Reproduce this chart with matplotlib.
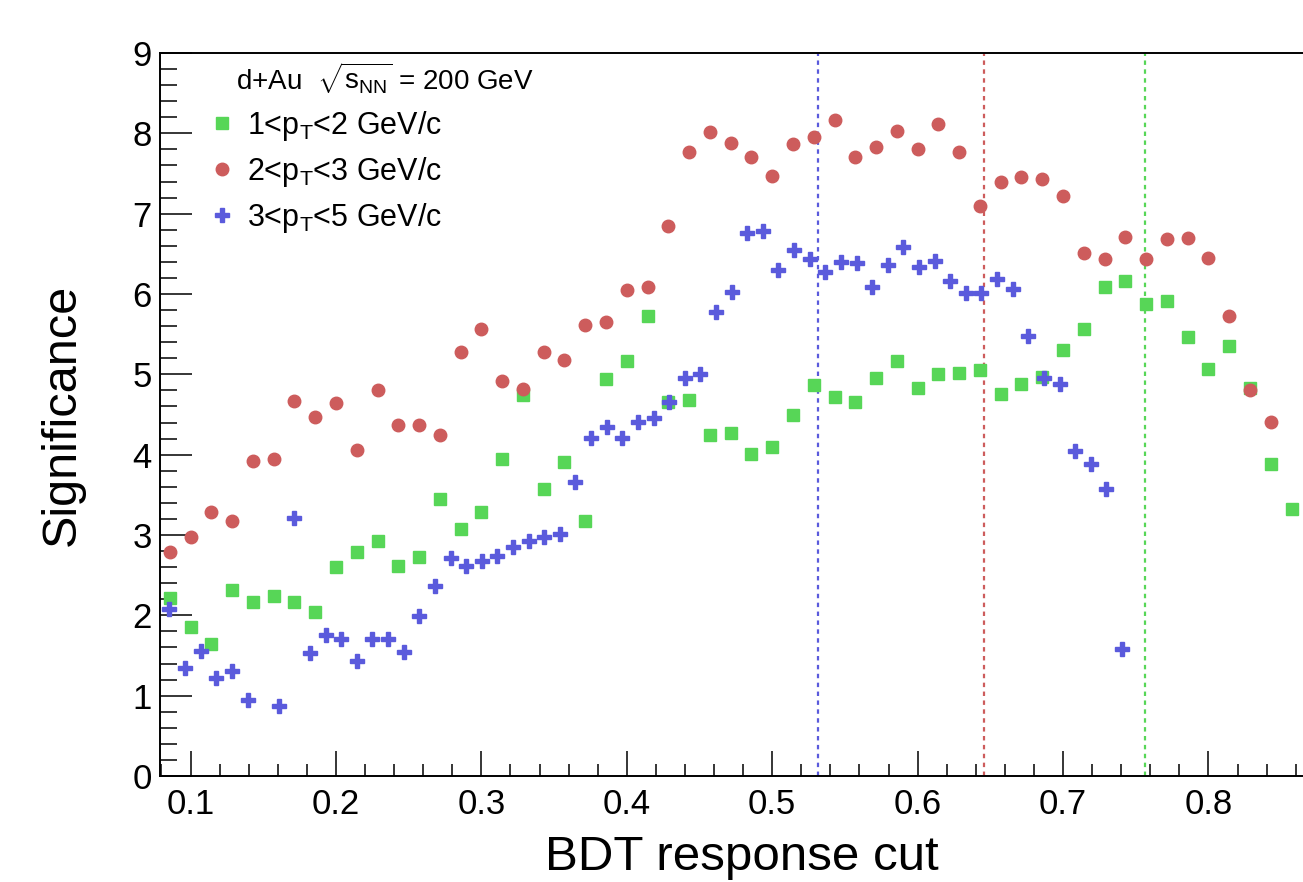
import numpy as np
import matplotlib
matplotlib.use("Agg")
import matplotlib.pyplot as plt
from matplotlib.ticker import MultipleLocator

plt.rcParams['font.family'] = ['Liberation Sans', 'DejaVu Sans']
plt.rcParams['mathtext.fontset'] = 'custom'
plt.rcParams['mathtext.rm'] = 'Liberation Sans'
plt.rcParams['mathtext.it'] = 'Liberation Sans'
plt.rcParams['mathtext.bf'] = 'Liberation Sans:bold'

# ---- data ----
x_rg = [0.0857, 0.1000, 0.1143, 0.1286, 0.1429, 0.1571, 0.1714, 0.1857, 0.2000, 0.2143,
        0.2286, 0.2429, 0.2571, 0.2714, 0.2857, 0.3000, 0.3143, 0.3286, 0.3429, 0.3571,
        0.3714, 0.3857, 0.4000, 0.4143, 0.4286, 0.4429, 0.4571, 0.4714, 0.4857, 0.5000,
        0.5143, 0.5286, 0.5429, 0.5571, 0.5714, 0.5857, 0.6000, 0.6143, 0.6286, 0.6429,
        0.6571, 0.6714, 0.6857, 0.7000, 0.7143, 0.7286, 0.7429, 0.7571, 0.7714, 0.7857,
        0.8000, 0.8143, 0.8286, 0.8429, 0.8571]

sig_pt12 = [2.22, 1.85, 1.64, 2.31, 2.16, 2.24, 2.16, 2.04, 2.60, 2.79,
            2.93, 2.62, 2.73, 3.45, 3.08, 3.29, 3.95, 4.74, 3.57, 3.91,
            3.17, 4.94, 5.16, 5.72, 4.65, 4.68, 4.24, 4.27, 4.01, 4.09,
            4.49, 4.87, 4.72, 4.66, 4.96, 5.16, 4.83, 5.01, 5.02, 5.05,
            4.76, 4.88, 4.97, 5.30, 5.57, 6.09, 6.16, 5.88, 5.91, 5.46,
            5.07, 5.35, 4.83, 3.89, 3.32]

sig_pt23 = [2.79, 2.97, 3.29, 3.18, 3.92, 3.95, 4.67, 4.47, 4.64, 4.06,
            4.81, 4.37, 4.37, 4.25, 5.28, 5.57, 4.92, 4.82, 5.28, 5.18,
            5.62, 5.65, 6.05, 6.09, 6.85, 7.77, 8.02, 7.88, 7.71, 7.47,
            7.87, 7.96, 8.16, 7.71, 7.83, 8.03, 7.80, 8.11, 7.77, 7.09,
            7.40, 7.46, 7.43, 7.22, 6.51, 6.43, 6.71, 6.43, 6.68, 6.70,
            6.45, 5.72, 4.81, 4.41]

x_b = [0.0855, 0.0962, 0.1070, 0.1177, 0.1285, 0.1392, 0.1607, 0.1714, 0.1821, 0.1929,
       0.2036, 0.2144, 0.2251, 0.2358, 0.2466, 0.2573, 0.2680, 0.2788, 0.2895, 0.3003,
       0.3110, 0.3217, 0.3325, 0.3432, 0.3540, 0.3647, 0.3754, 0.3862, 0.3969, 0.4076,
       0.4184, 0.4291, 0.4399, 0.4506, 0.4613, 0.4721, 0.4828, 0.4935, 0.5043, 0.5150,
       0.5258, 0.5365, 0.5472, 0.5580, 0.5687, 0.5794, 0.5902, 0.6009, 0.6117, 0.6224,
       0.6331, 0.6439, 0.6546, 0.6653, 0.6761, 0.6868, 0.6976, 0.7083, 0.7190, 0.7298,
       0.7405]
sig_pt35 = [2.08, 1.34, 1.56, 1.22, 1.31, 0.95, 0.87, 3.21, 1.53, 1.75,
            1.70, 1.43, 1.70, 1.71, 1.54, 1.99, 2.37, 2.71, 2.62, 2.68,
            2.74, 2.85, 2.93, 2.98, 3.01, 3.66, 4.21, 4.34, 4.21, 4.41,
            4.46, 4.65, 4.96, 5.01, 5.78, 6.03, 6.76, 6.78, 6.30, 6.55,
            6.43, 6.27, 6.40, 6.38, 6.09, 6.36, 6.58, 6.34, 6.41, 6.16,
            6.01, 6.01, 6.19, 6.06, 5.48, 4.95, 4.88, 4.05, 3.88, 3.57,
            1.58]

best_cut = {'b': 0.5316, 'r': 0.6459, 'g': 0.7561}
labels = [r"1<p$_{\mathrm{T}}$<2 GeV/c", r"2<p$_{\mathrm{T}}$<3 GeV/c", r"3<p$_{\mathrm{T}}$<5 GeV/c"]
header = r"d+Au  $\sqrt{\mathrm{s}_{\mathrm{NN}}}$ = 200 GeV"

c_g = '#57D657'
c_r = '#CD5C5C'
c_b = '#5A5ADC'

W, H = 1303, 882
fig = plt.figure(figsize=(W/100, H/100), dpi=100)
ax = fig.add_axes([160/W, 1 - 776/H, (W - 160)/W, (776 - 53)/H])

ax.axvline(best_cut['b'], color=c_b, lw=1.6, dashes=(2.0, 2.0))
ax.axvline(best_cut['r'], color=c_r, lw=1.6, dashes=(2.0, 2.0))
ax.axvline(best_cut['g'], color=c_g, lw=1.6, dashes=(2.0, 2.0))

hg, = ax.plot(x_rg, sig_pt12, ls='none', marker='s', ms=9.0, color=c_g, mec=c_g)
hr, = ax.plot(x_rg[:len(sig_pt23)], sig_pt23, ls='none', marker='o', ms=9.0, color=c_r, mec=c_r)
hb, = ax.plot(x_b, sig_pt35, ls='none', marker='P', ms=9.5, color=c_b, mec=c_b)

ax.set_xlim(0.079, 0.865)
ax.set_ylim(0, 9)
ax.xaxis.set_major_locator(MultipleLocator(0.1))
ax.xaxis.set_minor_locator(MultipleLocator(0.02))
ax.yaxis.set_major_locator(MultipleLocator(1))
ax.yaxis.set_minor_locator(MultipleLocator(0.2))
ax.tick_params(axis='x', which='major', direction='in', length=18, width=1.1, labelsize=25, pad=9)
ax.tick_params(axis='x', which='minor', direction='in', length=9, width=1.1)
ax.tick_params(axis='y', which='major', direction='in', length=23, width=1.1, labelsize=25, pad=6)
ax.tick_params(axis='y', which='minor', direction='in', length=12, width=1.1)
ax.set_xticks([0.1, 0.2, 0.3, 0.4, 0.5, 0.6, 0.7, 0.8])
ax.set_xticklabels(['0.1', '0.2', '0.3', '0.4', '0.5', '0.6', '0.7', '0.8'])
for s in ['left', 'bottom', 'top']:
    ax.spines[s].set_linewidth(1.4)
ax.spines['right'].set_visible(False)

ax.set_xlabel("BDT response cut", fontsize=35.5)
ax.xaxis.set_label_coords((742 - 160) / (W - 160), (776 - 835) / 723)
ax.set_ylabel("Significance", fontsize=35)
ax.yaxis.set_label_coords((85 - 160) / (W - 160), 0.5)

fig.text(236/W, 1 - 89/H, header, fontsize=20, ha='left', va='baseline')
leg = ax.legend([hg, hr, hb], labels, loc='upper left',
                bbox_to_anchor=(206.5/W, 1 - 109/H), bbox_transform=fig.transFigure,
                frameon=False, fontsize=22, handlelength=1.0, handletextpad=0.32,
                labelspacing=0.39, borderpad=0, borderaxespad=0, numpoints=1)

fig.savefig("out.png", dpi=100)
